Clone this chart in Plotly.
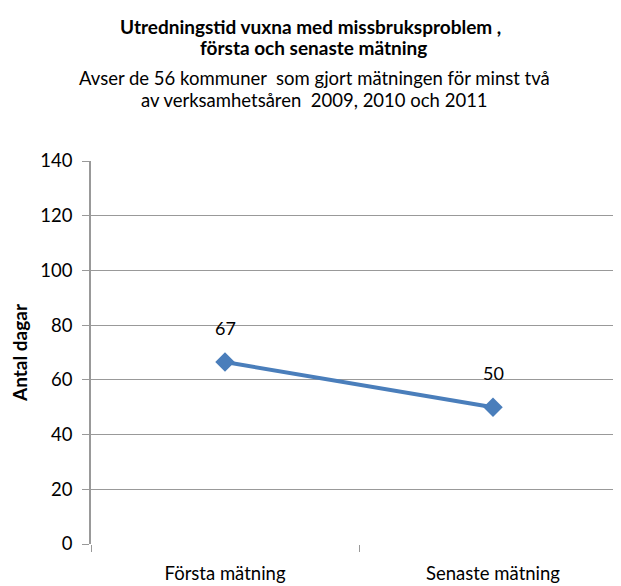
import plotly.graph_objects as go

categories = ["Första mätning", "Senaste mätning"]
values = [66.5, 50]
value_labels = ["67", "50"]
y_ticks = [0, 20, 40, 60, 80, 100, 120, 140]

title_lines = ["Utredningstid vuxna med missbruksproblem ,", "första och senaste mätning"]
subtitle_lines = ["Avser de 56 kommuner  som gjort mätningen för minst två",
                  "av verksamhetsåren  2009, 2010 och 2011"]

# the page body adds an 8px offset; geometry below is in figure pixels
W, H = 640, 586
ML, MR, MT, MB = 83, 0, 153, 50
FONT = "Lato, Carlito, Calibri, sans-serif"
BLUE = "#4A7EBB"
BAND = 268.0  # pixel width of one category band

fig = go.Figure()
fig.add_trace(go.Scatter(
    x=categories, y=values, mode="lines+markers",
    line=dict(color=BLUE, width=4),
    marker=dict(symbol="diamond", size=15, color=BLUE),
    showlegend=False, hoverinfo="skip",
))

for c, v, lab in zip(categories, values, value_labels):
    fig.add_annotation(x=c, y=v, text=lab, showarrow=False, yshift=34,
                       font=dict(family=FONT, size=18, color="#000"))

pw = W - ML - MR
ph = H - MT - MB
def px_x(px):
    return (px - ML) / pw
def px_y(py):
    return 1 + (MT - py) / ph

for line, xx, yy in zip(title_lines, [302, 305], [18, 40]):
    fig.add_annotation(xref="paper", yref="paper", x=px_x(xx), y=px_y(yy),
                       text=f"<b>{line}</b>", showarrow=False,
                       xanchor="center", yanchor="middle",
                       font=dict(family=FONT, size=19, color="#000"))
for line, yy in zip(subtitle_lines, [70, 92]):
    fig.add_annotation(xref="paper", yref="paper", x=px_x(306), y=px_y(yy),
                       text=line.replace("  ", "&nbsp; "), showarrow=False,
                       xanchor="center", yanchor="middle",
                       font=dict(family=FONT, size=18.5, color="#000"))

fig.update_layout(
    width=W, height=H,
    margin=dict(l=ML, r=MR, t=MT, b=MB, autoexpand=False),
    paper_bgcolor="white", plot_bgcolor="white",
    font=dict(family=FONT, color="#000"),
)
fig.update_xaxes(
    type="category", range=[-0.5, -0.5 + pw / BAND],
    tickson="boundaries", ticks="outside", ticklen=7, tickcolor="#999",
    showgrid=False, showline=False, zeroline=False,
    tickfont=dict(family=FONT, size=18.5, color="#000"),
    ticklabelstandoff=16,
)
fig.update_yaxes(
    range=[0, 140], tickvals=y_ticks,
    showgrid=True, gridcolor="#999", gridwidth=1.3,
    showline=True, linecolor="#999", linewidth=1.5,
    ticks="outside", ticklen=7, tickcolor="#999",
    zeroline=False,
    tickfont=dict(family=FONT, size=18.5, color="#000"),
    ticklabelstandoff=6,
    title=dict(text="<b>Antal dagar</b>", font=dict(family=FONT, size=19, color="#000"), standoff=14),
)

fig.write_html("out.html")
